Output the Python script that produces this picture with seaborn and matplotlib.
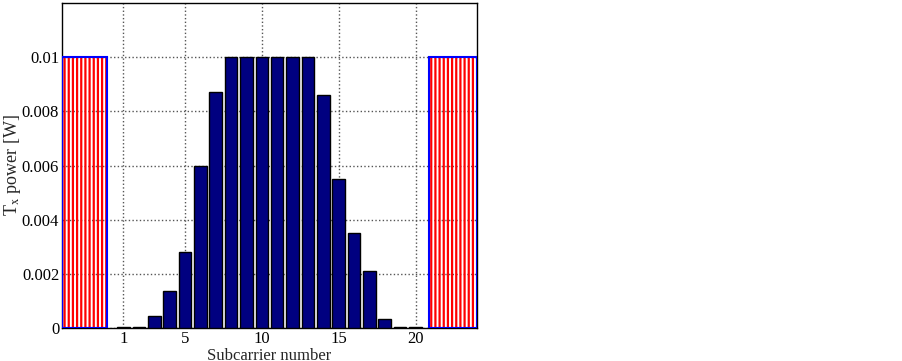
import matplotlib
matplotlib.use('Agg')
import matplotlib.pyplot as plt
import seaborn as sns
import pandas as pd

# transmit power per subcarrier
subcarriers = list(range(1, 21))
tx_power = [0.00003, 0.00005, 0.00045, 0.00136, 0.0028, 0.006, 0.0087,
            0.01, 0.01, 0.01, 0.01, 0.01, 0.01, 0.0086,
            0.0055, 0.0035, 0.0021, 0.00034, 0.00005, 0.00003]

# guard bands (start, end) on the subcarrier axis
guard_bands = [(-3.0, -0.1), (20.9, 24.0)]
guard_level = 0.01

xticks = [1, 5, 10, 15, 20]
yticks = [0, 0.002, 0.004, 0.006, 0.008, 0.01]
yticklabels = ['0', '0.002', '0.004', '0.006', '0.008', '0.01']

sns.set_style('white')
plt.rcParams['font.family'] = ['Liberation Serif', 'DejaVu Serif']
plt.rcParams['mathtext.fontset'] = 'stix'
plt.rcParams['hatch.linewidth'] = 1.6

df = pd.DataFrame({'subcarrier': subcarriers, 'power': tx_power})

fig = plt.figure(figsize=(9.03, 3.61), dpi=100)
ax = fig.add_axes([62 / 903, 1 - 328 / 361, (477 - 62) / 903, (328 - 3) / 361])

sns.barplot(data=df, x='subcarrier', y='power', native_scale=True, width=0.82,
            color='#000080', saturation=1, edgecolor='black', linewidth=1, ax=ax, zorder=3)

for start, end in guard_bands:
    ax.bar(start, guard_level, width=end - start, align='edge', fill=False,
           hatch='||||', edgecolor='red', linewidth=0, zorder=2)
    ax.bar(start, guard_level, width=end - start, align='edge', fill=False,
           edgecolor='blue', linewidth=1.5, zorder=4)

ax.set_xlim(-3, 24)
ax.set_ylim(0, 0.012)
ax.set_xticks(xticks)
ax.set_xticklabels([str(t) for t in xticks])
ax.set_yticks(yticks)
ax.set_yticklabels(yticklabels)
ax.grid(True, linestyle=':', color='#555555', linewidth=1, zorder=0)
ax.set_axisbelow(True)
ax.tick_params(axis='both', direction='in', length=4, labelsize=12, colors='black')
ax.tick_params(axis='x', pad=2)
ax.tick_params(axis='y', pad=2)
for s in ax.spines.values():
    s.set_color('black')
    s.set_linewidth(1)

ax.set_xlabel('Subcarrier number', fontsize=12)
ax.set_ylabel(r'T$_{\mathrm{x}}$ power [W]', fontsize=13)
ax.xaxis.set_label_coords(0.5, -0.06)
ax.yaxis.set_label_coords(-0.095, 0.5)

fig.savefig('out.png', dpi=100)
